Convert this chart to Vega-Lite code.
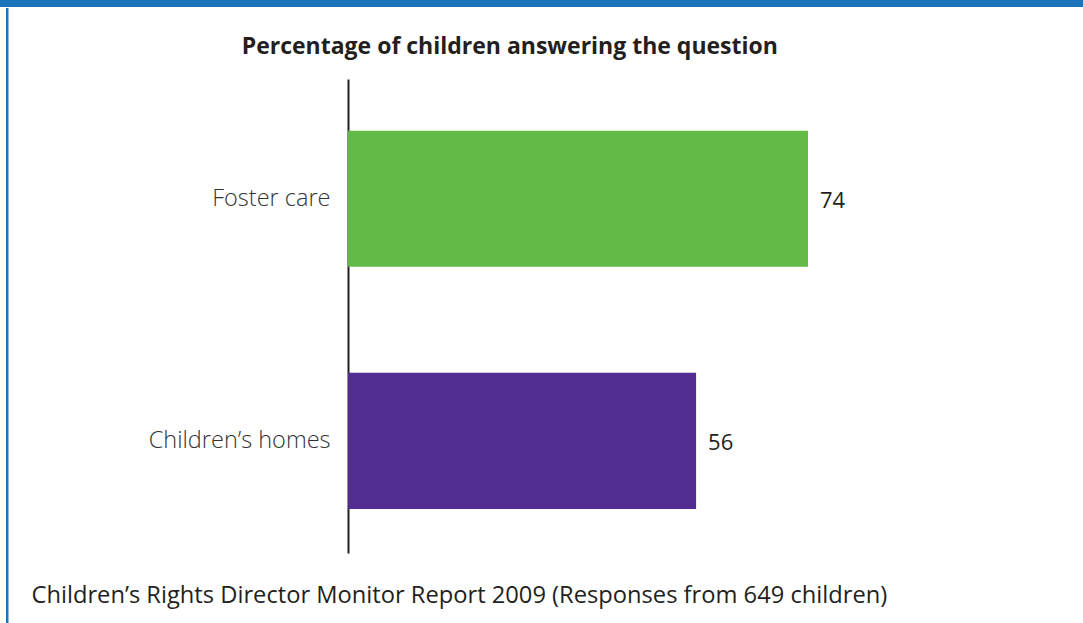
{
  "$schema": "https://vega.github.io/schema/vega-lite/v6.json",
  "padding": 0,
  "background": "white",
  "spacing": 0,
  "config": {"view": {"stroke": null}, "font": "Open Sans"},
  "vconcat": [
    {
      "width": 1083,
      "height": 7,
      "data": {"values": [{"x": 0, "x2": 1, "y": 0, "y2": 1}]},
      "mark": {"type": "rect", "color": "#1b75bc"},
      "encoding": {
        "x": {"field": "x", "type": "quantitative", "scale": {"domain": [0, 1], "nice": false, "zero": false}, "axis": null},
        "x2": {"field": "x2"},
        "y": {"field": "y", "type": "quantitative", "scale": {"domain": [0, 1], "nice": false, "zero": false}, "axis": null},
        "y2": {"field": "y2"}
      }
    },
    {
      "spacing": 0,
      "hconcat": [
        {
          "width": 9,
          "height": 474,
          "data": {"values": [{"x": 6, "x2": 8.5, "y": -0.16, "y2": 1.15}]},
          "mark": {"type": "rect", "color": "#1b75bc", "clip": false},
          "encoding": {
            "x": {"field": "x", "type": "quantitative", "scale": {"domain": [0, 9], "nice": false, "zero": false}, "axis": null},
            "x2": {"field": "x2"},
            "y": {"field": "y", "type": "quantitative", "scale": {"domain": [0, 1], "nice": false, "zero": false}, "axis": null},
            "y2": {"field": "y2"}
          }
        },
        {
          "width": 621.6,
          "height": 474,
          "title": {
            "text": ["", "Percentage of children answering the question"],
            "fontSize": 23,
            "fontWeight": "bold",
            "font": "Open Sans",
            "color": "#231f20",
            "lineHeight": 28,
            "anchor": "middle",
            "dx": -149,
            "offset": 20
          },
          "data": {"values": [
            {"setting": "Foster care", "pct": 74},
            {"setting": "Children’s homes", "pct": 56}
          ]},
          "encoding": {
            "y": {
              "field": "setting",
              "type": "nominal",
              "sort": null,
              "scale": {"paddingInner": 0.438, "paddingOuter": 0.198, "align": 0.54},
              "axis": {
                "title": null,
                "ticks": false,
                "domain": true,
                "domainColor": "#231f20",
                "domainWidth": 2,
                "labelFont": "Open Sans",
                "labelFontSize": 23.5,
                "labelFontWeight": 300,
                "labelColor": "#333333",
                "labelPadding": 18,
                "labelLimit": 320,
                "minExtent": 339,
                "maxExtent": 339
              }
            },
            "x": {
              "field": "pct",
              "type": "quantitative",
              "scale": {"domain": [0, 100], "nice": false},
              "axis": {
                "grid": false,
                "labels": false,
                "ticks": false,
                "domain": false,
                "title": "Children’s Rights Director Monitor Report 2009 (Responses from 649 children)",
                "titleFont": "Open Sans",
                "titleFontSize": 23.7,
                "titleFontWeight": "normal",
                "titleColor": "#231f20",
                "titleAnchor": "start",
                "titleAlign": "left",
                "titleBaseline": "alphabetic",
                "titleX": -317,
                "titleY": 49,
                "titleLimit": 1000
              }
            }
          },
          "layer": [
            {
              "mark": {"type": "bar"},
              "encoding": {
                "color": {
                  "field": "setting",
                  "type": "nominal",
                  "scale": {"domain": ["Foster care", "Children’s homes"], "range": ["#62bb46", "#522d91"]},
                  "legend": null
                }
              }
            },
            {
              "mark": {"type": "text", "align": "left", "dx": 12, "dy": 2, "fontSize": 22, "font": "Open Sans", "color": "#231f20"},
              "encoding": {"text": {"field": "pct", "type": "quantitative"}}
            }
          ]
        }
      ]
    }
  ]
}
